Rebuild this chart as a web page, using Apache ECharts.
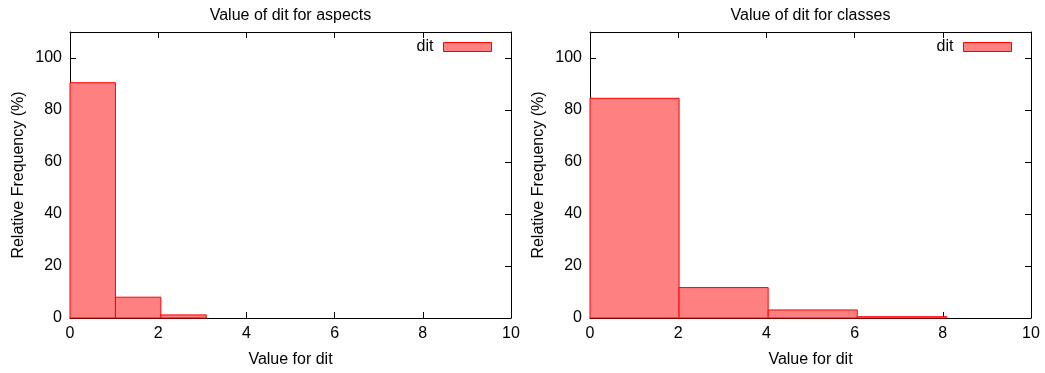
<!DOCTYPE html>
<html>
<head>
<meta charset="utf-8">
<script src="https://cdn.jsdelivr.net/npm/echarts@6/dist/echarts.min.js"></script>
<style>html,body{margin:0;padding:0;background:#fff}#c{width:1045px;height:373px}</style>
</head>
<body>
<div id="c"></div>
<script>
// Data
const titles = ['Value of dit for aspects', 'Value of dit for classes'];
const aspectsBinStart = [0, 1.03, 2.06];
const aspectsBinEnd = [1.03, 2.06, 3.09];
const aspectsFreq = [90.5, 8.0, 1.2];
const classesBinStart = [0, 2.02, 4.04, 6.06];
const classesBinEnd = [2.02, 4.04, 6.06, 8.09];
const classesFreq = [84.5, 11.7, 3.1, 0.5];
const xTicks = [0, 2, 4, 6, 8, 10];
const yTicks = [0, 20, 40, 60, 80, 100];

const chart = echarts.init(document.getElementById('c'));
const FONT = 'Liberation Sans';
const FS = 16;
const grids = [
  {left: 70, right: 534, top: 32, bottom: 55},
  {left: 590, right: 14, top: 32, bottom: 55}
];
function rows(s, e, f) { return s.map((v, i) => [v, e[i], f[i]]); }
const datasets = [rows(aspectsBinStart, aspectsBinEnd, aspectsFreq), rows(classesBinStart, classesBinEnd, classesFreq)];

const xAxis = [], yAxis = [], series = [], title = [], legend = [];
const lineStyle = {color: '#000', width: 1};
grids.forEach((g, i) => {
  const base = {type: 'value', min: xTicks[0], max: xTicks[xTicks.length - 1], interval: 2, gridIndex: i,
    splitLine: {show: false}, axisLine: {show: true, onZero: false, lineStyle},
    axisTick: {show: true, inside: true, length: 6, lineStyle}};
  xAxis.push(Object.assign({}, base, {position: 'bottom', name: 'Value for dit', nameLocation: 'middle', nameGap: 34,
    nameTextStyle: {fontFamily: FONT, fontSize: FS, color: '#000'},
    axisLabel: {fontFamily: FONT, fontSize: FS, color: '#000', margin: 8}}));
  xAxis.push(Object.assign({}, base, {position: 'top', axisLabel: {show: false}}));
  const ybase = {type: 'value', min: 0, max: 110, interval: 20, gridIndex: i,
    splitLine: {show: false}, axisLine: {show: true, onZero: false, lineStyle},
    axisTick: {show: true, inside: true, length: 6, lineStyle, customValues: yTicks}};
  yAxis.push(Object.assign({}, ybase, {position: 'left', name: 'Relative Frequency (%)', nameLocation: 'middle', nameGap: 43,
    nameTextStyle: {fontFamily: FONT, fontSize: FS, color: '#000'},
    axisLabel: {fontFamily: FONT, fontSize: FS, color: '#000', margin: 8, customValues: yTicks}}));
  yAxis.push(Object.assign({}, ybase, {position: 'right', axisLabel: {show: false}}));
  const cx = g.left + (1045 - g.left - g.right) / 2;
  title.push({text: titles[i], left: cx, top: 8, textAlign: 'center', padding: 0,
    textStyle: {fontFamily: FONT, fontSize: FS, fontWeight: 'normal', color: '#000'}});
  legend.push({data: ['dit'], right: i === 0 ? 553 : 33, top: 39, itemWidth: 48, itemHeight: 9, align: 'right',
    icon: 'rect', selectedMode: false, padding: 0,
    itemStyle: {color: '#ff8080', borderColor: '#ff0000', borderWidth: 1},
    textStyle: {fontFamily: FONT, fontSize: FS, color: '#000', padding: [0, 5, 0, 0]}});
  series.push({type: 'custom', name: 'dit', xAxisIndex: i * 2, yAxisIndex: i * 2,
    data: datasets[i],
    itemStyle: {color: '#ff8080', borderColor: '#ff0000', borderWidth: 1},
    encode: {x: [0, 1], y: 2},
    renderItem: function (params, api) {
      const p0 = api.coord([api.value(0), 0]);
      const p1 = api.coord([api.value(1), api.value(2)]);
      return {type: 'rect', shape: {x: p0[0], y: p1[1], width: p1[0] - p0[0], height: p0[1] - p1[1]},
        style: {fill: '#ff8080', stroke: '#ff0000', lineWidth: 1}};
    }});
});

chart.setOption({animation: false, grid: grids, xAxis, yAxis, series, title, legend});
</script>
</body>
</html>
